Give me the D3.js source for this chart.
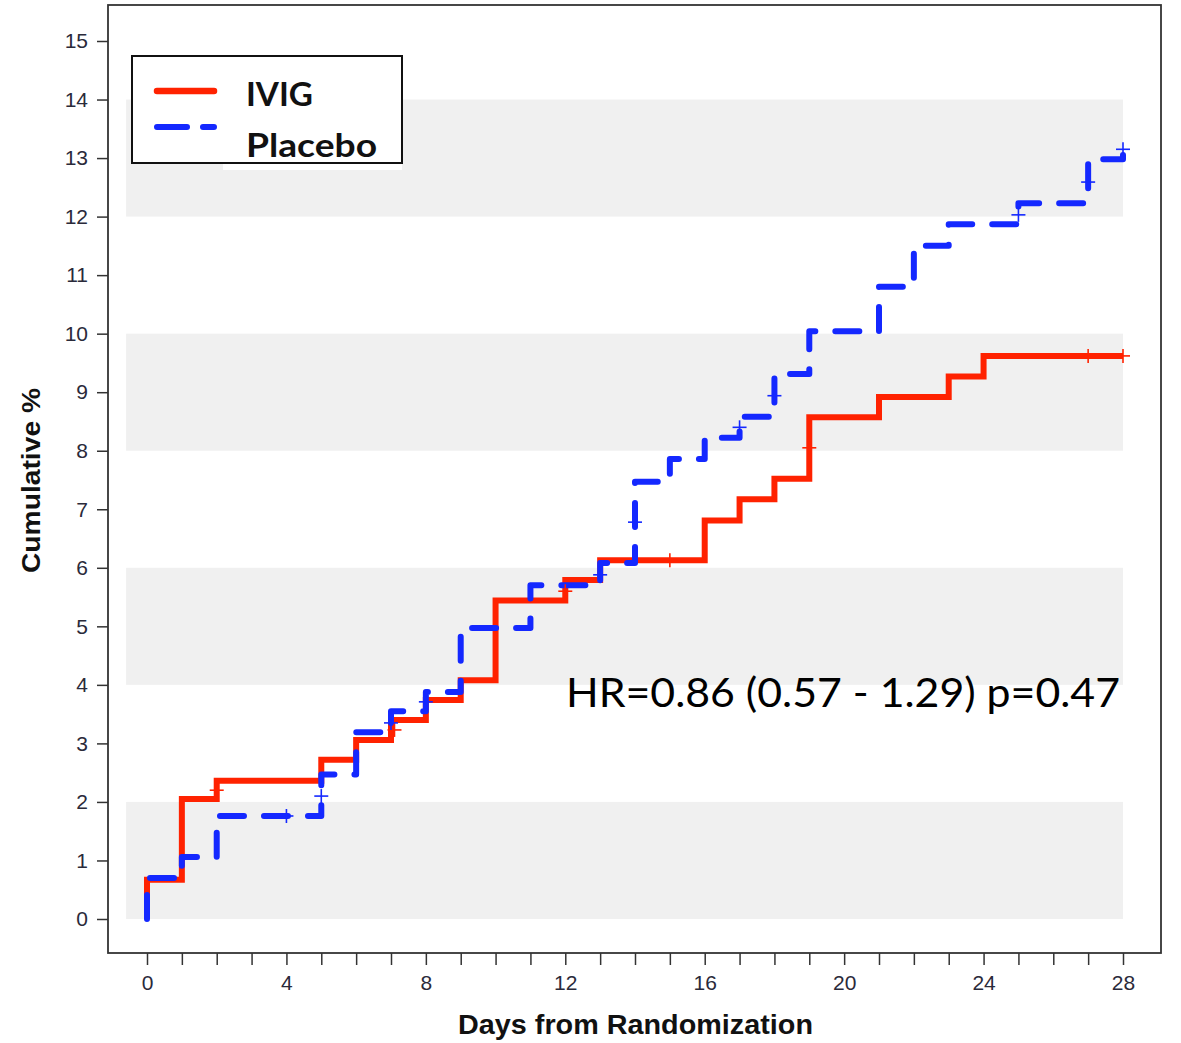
<!DOCTYPE html>
<html>
<head>
<meta charset="utf-8">
<script src="https://cdn.jsdelivr.net/npm/d3@7"></script>
<style>
  html, body { margin: 0; padding: 0; background: #fff; }
  svg { display: block; }
</style>
</head>
<body>
<svg id="chart" width="1181" height="1043"></svg>
<script>
// Cumulative incidence by treatment arm (step functions, percent)
const ivigDays = [0, 1, 2, 5, 6, 7, 8, 9, 10, 12, 13, 16, 17, 18, 19, 21, 23, 24, 28];
const ivigPct  = [0.67, 2.05, 2.36, 2.72, 3.06, 3.40, 3.74, 4.08, 5.44, 5.79, 6.13, 6.81, 7.17, 7.52, 8.57, 8.92, 9.27, 9.62, 9.62];

const placeboDays = [0, 1, 2, 5, 6, 7, 8, 9, 11, 13, 14, 15, 16, 17, 18, 19, 21, 22, 23, 25, 27, 28];
const placeboPct  = [0.70, 1.06, 1.76, 2.47, 3.19, 3.55, 3.88, 4.97, 5.70, 6.08, 7.47, 7.86, 8.22, 8.58, 9.31, 10.04, 10.80, 11.50, 11.87, 12.23, 12.98, 13.15];

// Censoring marks
const ivigCensorDays = [2, 7.1, 12, 15, 19, 27, 28];
const ivigCensorPct  = [2.2, 3.23, 5.6, 6.13, 8.05, 9.62, 9.62];
const placeboCensorDays = [4, 5, 7, 8, 13, 14, 17, 18, 25, 27, 28];
const placeboCensorPct  = [1.76, 2.1, 3.35, 3.71, 5.88, 6.78, 8.4, 8.94, 12.03, 12.59, 13.15];

// Axis ticks
const yTicks = d3.range(0, 16);
const xTicks = d3.range(0, 29);
const xLabelEvery = 4;
const bands = [[0, 2], [4, 6], [8, 10], [12, 14]];

const seriesNames = ["IVIG", "Placebo"];
const annotation = "HR=0.86 (0.57 - 1.29) p=0.47";

const RED = "#ff2200";
const BLUE = "#1428ff";

const svg = d3.select("#chart");
const x = d3.scaleLinear().domain([0, 28]).range([147, 1123]);
const y = d3.scaleLinear().domain([0, 15]).range([919, 41]);

const frame = { left: 108, right: 1161, top: 5, bottom: 953 };

// Alternating background bands
svg.append("g").selectAll("rect").data(bands).join("rect")
  .attr("x", x(-0.6))
  .attr("width", x(28) - x(-0.6))
  .attr("y", d => y(d[1]))
  .attr("height", d => y(d[0]) - y(d[1]))
  .attr("fill", "#f0f0f0");

// Step curves
const stepLine = d3.line()
  .x(d => x(d[0]))
  .y(d => y(d[1]))
  .curve(d3.curveStepAfter);

const ivigPts = [[0, 0]].concat(ivigDays.map((t, i) => [t, ivigPct[i]]));
const placeboPts = [[0, 0]].concat(placeboDays.map((t, i) => [t, placeboPct[i]]));

svg.append("path")
  .attr("d", stepLine(ivigPts))
  .attr("fill", "none")
  .attr("stroke", RED)
  .attr("stroke-width", 6)
  .attr("stroke-linejoin", "miter")
  .attr("stroke-linecap", "butt");

svg.append("path")
  .attr("d", stepLine(placeboPts))
  .attr("fill", "none")
  .attr("stroke", BLUE)
  .attr("stroke-width", 6)
  .attr("stroke-dasharray", "24,20")
  .attr("stroke-linecap", "round")
  .attr("stroke-linejoin", "round");

// Censor "+" marks
function drawCensor(days, pct, color) {
  const g = svg.append("g").attr("stroke", color).attr("stroke-width", 1.6);
  days.forEach((t, i) => {
    const cx = x(t), cy = y(pct[i]);
    g.append("line").attr("x1", cx - 7).attr("x2", cx + 7).attr("y1", cy).attr("y2", cy);
    g.append("line").attr("x1", cx).attr("x2", cx).attr("y1", cy - 7).attr("y2", cy + 7);
  });
}
drawCensor(ivigCensorDays, ivigCensorPct, RED);
drawCensor(placeboCensorDays, placeboCensorPct, BLUE);

// Plot frame
svg.append("rect")
  .attr("x", frame.left).attr("y", frame.top)
  .attr("width", frame.right - frame.left)
  .attr("height", frame.bottom - frame.top)
  .attr("fill", "none")
  .attr("stroke", "#333")
  .attr("stroke-width", 1.8);

// Axes
const yAxis = svg.append("g")
  .attr("transform", `translate(${frame.left},0)`)
  .call(d3.axisLeft(y).tickValues(yTicks).tickSize(11).tickPadding(9).tickFormat(d3.format("d")));
yAxis.select(".domain").remove();
yAxis.selectAll(".tick line").attr("stroke", "#333").attr("stroke-width", 1.5);
yAxis.selectAll(".tick text")
  .attr("font-family", "'Liberation Sans', Arial, sans-serif")
  .attr("font-size", 21)
  .attr("fill", "#2a2a3a");

const xAxis = svg.append("g")
  .attr("transform", `translate(0,${frame.bottom})`)
  .call(d3.axisBottom(x).tickValues(xTicks).tickSize(12).tickPadding(10)
    .tickFormat(d => d % xLabelEvery === 0 ? d : ""));
xAxis.select(".domain").remove();
xAxis.selectAll(".tick line").attr("stroke", "#333").attr("stroke-width", 1.5);
xAxis.selectAll(".tick text")
  .attr("font-family", "'Liberation Sans', Arial, sans-serif")
  .attr("font-size", 21)
  .attr("fill", "#2a2a3a");

// Axis titles
svg.append("text")
  .attr("x", (458 + 813) / 2)
  .attr("y", 1034)
  .attr("text-anchor", "middle")
  .attr("font-family", "'Liberation Sans', Arial, sans-serif")
  .attr("font-weight", "bold")
  .attr("font-size", 27)
  .attr("textLength", 355)
  .attr("lengthAdjust", "spacingAndGlyphs")
  .attr("fill", "#111")
  .text("Days from Randomization");

svg.append("text")
  .attr("transform", `translate(40,${(388 + 573) / 2}) rotate(-90)`)
  .attr("text-anchor", "middle")
  .attr("font-family", "'Liberation Sans', Arial, sans-serif")
  .attr("font-weight", "bold")
  .attr("font-size", 25)
  .attr("textLength", 185)
  .attr("lengthAdjust", "spacingAndGlyphs")
  .attr("fill", "#111")
  .text("Cumulative %");

// Legend
const legend = svg.append("g");
legend.append("rect")
  .attr("x", 223).attr("y", 160).attr("width", 179).attr("height", 10)
  .attr("fill", "#fff");
legend.append("rect")
  .attr("x", 132).attr("y", 56).attr("width", 270).attr("height", 107)
  .attr("fill", "#fff")
  .attr("stroke", "#111")
  .attr("stroke-width", 2);
legend.append("line")
  .attr("x1", 157).attr("x2", 214).attr("y1", 91).attr("y2", 91)
  .attr("stroke", RED).attr("stroke-width", 6.5).attr("stroke-linecap", "round");
legend.append("line")
  .attr("x1", 157).attr("x2", 214).attr("y1", 127).attr("y2", 127)
  .attr("stroke", BLUE).attr("stroke-width", 6).attr("stroke-linecap", "round")
  .attr("stroke-dasharray", "30,16");
legend.selectAll("text.lg").data(seriesNames).join("text")
  .attr("class", "lg")
  .attr("x", 246)
  .attr("y", (d, i) => i === 0 ? 106 : 157)
  .attr("font-family", "Lato, 'Open Sans', sans-serif")
  .attr("font-weight", "bold")
  .attr("font-size", 33)
  .attr("textLength", (d, i) => i === 0 ? 67 : 131)
  .attr("lengthAdjust", "spacingAndGlyphs")
  .attr("fill", "#111")
  .text(d => d);

// Hazard ratio annotation
svg.append("text")
  .attr("x", 566)
  .attr("y", 707)
  .attr("font-family", "Lato, 'Open Sans', sans-serif")
  .attr("font-size", 40)
  .attr("textLength", 554)
  .attr("lengthAdjust", "spacingAndGlyphs")
  .attr("fill", "#000")
  .text(annotation);
</script>
</body>
</html>
